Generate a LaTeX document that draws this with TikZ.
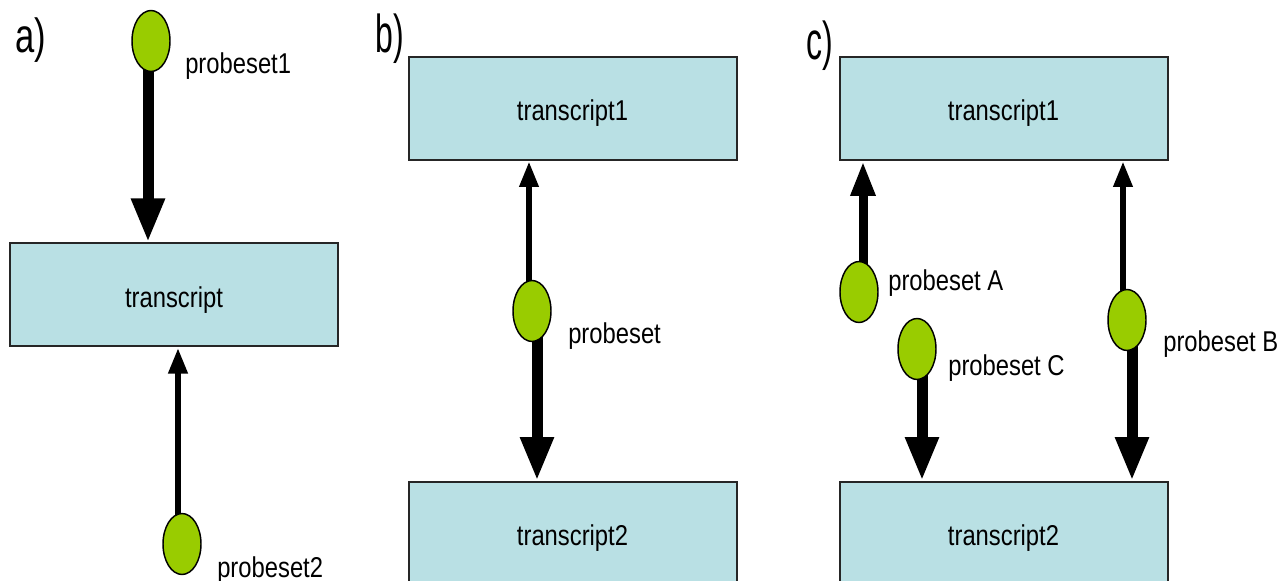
\documentclass[tikz,border=0pt]{standalone}
\usepackage{fontspec}
\setmainfont{Liberation Sans}[FakeStretch=0.83]
\newfontfamily\lblfontA{Liberation Sans}[FakeStretch=0.72]
\newfontfamily\lblfontB{Liberation Sans}[FakeStretch=0.6]
\usetikzlibrary{shapes.geometric,arrows.meta,calc}
\definecolor{boxblue}{RGB}{185,224,228}
\definecolor{probegreen}{RGB}{153,204,0}
\pgfdeclarelayer{bg}
\pgfsetlayers{bg,main}
\begin{document}
\begin{tikzpicture}[x=0.75pt,y=-0.75pt,
  tbox/.style={rectangle,draw=black!85,line width=1.5pt,fill=boxblue,minimum width=246pt,minimum height=77.25pt,inner sep=0pt,text height=18pt,text depth=0pt,font=\fontsize{21.5}{25}\selectfont},
  probe/.style={ellipse,draw=black,line width=1.1pt,fill=probegreen,minimum width=28.5pt,minimum height=45.75pt,inner sep=0pt},
  plabel/.style={anchor=base west,inner sep=0pt,font=\fontsize{21.5}{25}\selectfont},
  panelA/.style={anchor=base west,inner sep=0pt,font=\lblfontA\fontsize{36}{40}\selectfont},
  panelB/.style={anchor=base west,inner sep=0pt,font=\lblfontB\fontsize{40}{44}\selectfont},
  thickarr/.style={line width=8.25pt,-{Triangle[length=33pt,width=23.25pt]}},
  medarr/.style={line width=6.75pt,-{Triangle[length=26.25pt,width=17.25pt]}},
  thinarr/.style={line width=4.875pt,-{Triangle[length=19.5pt,width=13.5pt]}}
]
\useasboundingbox (0,0) rectangle (1283,581);

% ---- panel a ----
\node[panelA] (la) at (15,53) {a)};
\node[tbox] (boxA) at (174,295) {transcript};
\node[probe] (ps1) at (151,41) {};
\node[probe] (ps2) at (182,544) {};
\node[plabel] (tps1) at (185,74) {probeset1};
\node[plabel] (tps2) at (217,577) {probeset2};

% ---- panel b ----
\node[panelB] (lb) at (375,53) {b)};
\node[tbox] (boxB1) at (572.5,108.5) {transcript1};
\node[tbox] (boxB2) at (572.5,533.5) {transcript2};
\node[probe] (psb) at (532,311) {};
\node[plabel] (tpsb) at (568,344) {probeset};

% ---- panel c ----
\node[panelB] (lc) at (806,60) {c)};
\node[tbox] (boxC1) at (1003.5,108.5) {transcript1};
\node[tbox] (boxC2) at (1003.5,533.5) {transcript2};
\node[probe] (psA) at (859,292) {};
\node[probe] (psC) at (917,349) {};
\node[probe] (psB) at (1127,320) {};
\node[plabel] (tpsA) at (888,291) {probeset A};
\node[plabel] (tpsC) at (948,375) {probeset C};
\node[plabel] (tpsB) at (1163,351) {probeset B};

\begin{pgfonlayer}{bg}
  % a
  \draw[thickarr] ($(ps1.center)+(-3,0)$) -- ($(ps1.center |- boxA.north)+(-3,0)$);
  \draw[thinarr] ($(ps2.center)+(-4,0)$) -- ($(ps2.center |- boxA.south)+(-4,0)$);
  % b
  \draw[thinarr] ($(psb.center)+(-3,0)$) -- ($(psb.center |- boxB1.south)+(-3,0)$);
  \draw[thickarr] ($(psb.center)+(5,0)$) -- ($(psb.center |- boxB2.north)+(5,0)$);
  % c
  \draw[medarr] ($(psA.center)+(4,0)$) -- ($(psA.center |- boxC1.south)+(4,0)$);
  \draw[thickarr] ($(psC.center)+(5,0)$) -- ($(psC.center |- boxC2.north)+(5,0)$);
  \draw[thinarr] ($(psB.center)+(-4,0)$) -- ($(psB.center |- boxC1.south)+(-4,0)$);
  \draw[thickarr] ($(psB.center)+(5,0)$) -- ($(psB.center |- boxC2.north)+(5,0)$);
\end{pgfonlayer}
\end{tikzpicture}
\end{document}
